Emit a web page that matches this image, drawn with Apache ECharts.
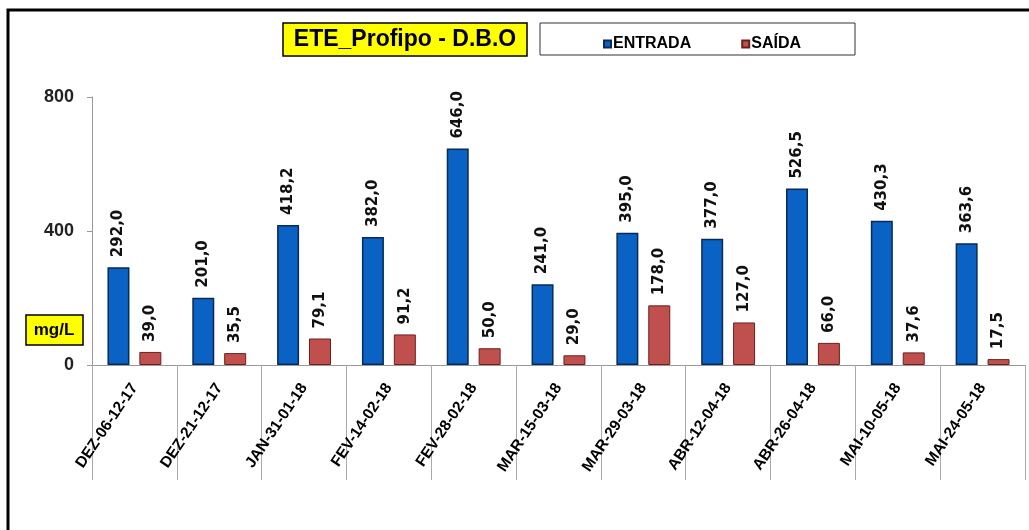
<!DOCTYPE html>
<html>
<head>
<meta charset="utf-8">
<script src="https://cdn.jsdelivr.net/npm/echarts@6/dist/echarts.min.js"></script>
<style>
	html,body{margin:0;padding:0;background:#fff;}
	#chart{width:1029px;height:530px;}
</style>
</head>
<body>
<div id="chart"></div>
<script>
	var categories = ['DEZ-06-12-17','DEZ-21-12-17','JAN-31-01-18','FEV-14-02-18','FEV-28-02-18','MAR-15-03-18','MAR-29-03-18','ABR-12-04-18','ABR-26-04-18','MAI-10-05-18','MAI-24-05-18'];
	var entrada = [292.0, 201.0, 418.2, 382.0, 646.0, 241.0, 395.0, 377.0, 526.5, 430.3, 363.6];
	var saida = [39.0, 35.5, 79.1, 91.2, 50.0, 29.0, 178.0, 127.0, 66.0, 37.6, 17.5];
	var yTicks = [0, 400, 800];

	function fmt(p){
		return Number(p.value).toFixed(1).replace('.', ',');
	}
	var labelStyle = {
		show:true,
		position:'top',
		rotate:90,
		align:'left',
		verticalAlign:'middle',
		distance:10,
		formatter:fmt,
		fontFamily:'DejaVu Sans',
		fontWeight:'bold',
		fontSize:15,
		color:'#111'
	};

	var mychart = echarts.init(document.getElementById('chart'));
	var option = {
		animation:false,
		backgroundColor:'#fff',
		graphic:[
			{type:'rect', shape:{x:8, y:10, width:1040, height:560}, style:{fill:'none', stroke:'#000', lineWidth:3}},
			{type:'rect', shape:{x:283, y:23, width:244, height:33}, style:{fill:'#ffff00', stroke:'#000', lineWidth:1.5}},
			{type:'text', x:405, y:40, style:{text:'ETE_Profipo - D.B.O', fontFamily:'Liberation Sans, Arial', fontWeight:'bold', fontSize:23, fill:'#000', align:'center', verticalAlign:'middle'}},
			{type:'rect', shape:{x:540, y:23, width:315, height:32}, style:{fill:'#fff', stroke:'#333', lineWidth:1}},
			{type:'rect', shape:{x:26, y:315, width:57, height:30}, style:{fill:'#ffff00', stroke:'#000', lineWidth:1.5}},
			{type:'text', x:54, y:330, style:{text:'mg/L', fontFamily:'Liberation Sans, Arial', fontWeight:'bold', fontSize:17, fill:'#000', align:'center', verticalAlign:'middle'}}
		],
		legend:{
			left:598,
			top:31,
			itemWidth:7,
			itemHeight:7,
			itemGap:50,
			icon:'rect',
			textStyle:{fontFamily:'Liberation Sans, Arial', fontWeight:'bold', fontSize:16, color:'#000', padding:[0,0,0,-3]},
			data:['ENTRADA','SAÍDA']
		},
		grid:{
			left:92,
			right:4,
			top:97,
			bottom:165,
			containLabel:false
		},
		xAxis:[{
			type:'category',
			data:categories,
			boundaryGap:true,
			axisLine:{lineStyle:{color:'#999', width:1}},
			axisTick:{show:true, length:115, inside:false, lineStyle:{color:'#aaa'}},
			axisLabel:{
				interval:0,
				rotate:56,
				margin:20,
				fontFamily:'Liberation Sans, Arial',
				fontWeight:'bold',
				fontSize:15.5,
				color:'#000'
			}
		}],
		yAxis:[{
			type:'value',
			min:0,
			max:800,
			interval:400,
			axisLine:{show:true, lineStyle:{color:'#999'}},
			axisTick:{show:true, length:5, lineStyle:{color:'#999'}},
			splitLine:{show:false},
			axisLabel:{
				margin:18,
				fontFamily:'Liberation Sans, Arial',
				fontWeight:'bold',
				fontSize:18,
				color:'#222',
				formatter:function(v){ return yTicks.indexOf(v) >= 0 ? String(v) : ''; }
			}
		}],
		series:[
			{
				name:'ENTRADA',
				type:'bar',
				barWidth:22,
				barGap:'45%',
				data:entrada,
				itemStyle:{color:'#0a62c4', borderColor:'#0b2a55', borderWidth:1.5},
				label:labelStyle
			},
			{
				name:'SAÍDA',
				type:'bar',
				barWidth:22,
				data:saida,
				itemStyle:{color:'#c0504d', borderColor:'#6b2020', borderWidth:1},
				label:labelStyle
			}
		]
	};
	mychart.setOption(option);
</script>
</body>
</html>
